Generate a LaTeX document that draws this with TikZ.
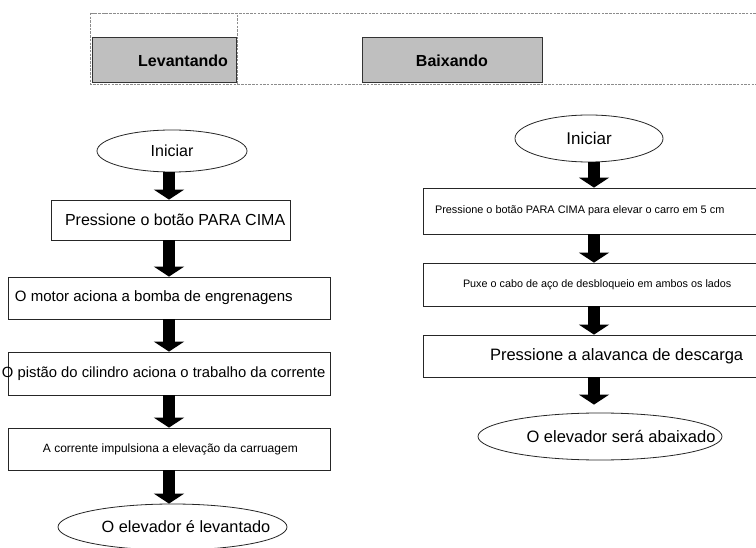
\documentclass[tikz,border=0pt]{standalone}
\usepackage{fontspec}
\setmainfont{Liberation Sans}
\usetikzlibrary{arrows.meta,shapes.geometric}
\newcommand{\fsz}[1]{\fontsize{#1}{#1}\selectfont}
\tikzset{
  boxnode/.style={draw=black!85, line width=0.8pt, rectangle, inner sep=0pt, fill=white},
  ellnode/.style={draw=black!85, line width=0.8pt, ellipse, inner sep=0pt, fill=white},
  hdrbox/.style={draw=black!80, line width=1pt, fill=gray!50!white, rectangle, inner sep=0pt, font=\bfseries},
  dashframe/.style={draw=black!45, line width=0.8pt, dash pattern=on 2.5pt off 1.2pt},
  blockarrow/.style={line width=12.5pt, black, -{Triangle[width=30pt,length=10pt]}}
}
\begin{document}
\begin{tikzpicture}[x=1pt,y=-1pt]
\clip (0,0) rectangle (756,548);
\fill[white] (0,0) rectangle (756,548);
% header
\draw[dashframe] (90,13) rectangle (770,84);
\draw[dashframe] (90,13) rectangle (237,84);
\node[hdrbox, minimum width=144pt, minimum height=45pt] (lev) at (164,60.5)
  {\makebox[144pt][r]{\fsz{16}Levantando\hspace{8pt}}};
\node[hdrbox, minimum width=180pt, minimum height=45pt] (bai) at (452,60.5)
  {\fsz{16}Baixando};
% left column
\coordinate (ax) at (169,0);
\node[ellnode, minimum width=150pt, minimum height=42pt] (l0) at (172,151) {\fsz{16}Iniciar};
\node[boxnode, minimum width=239pt, minimum height=40pt] (l1) at (170.5,220)
  {\makebox[239pt][l]{\hspace{14pt}\fsz{16}Pressione o botão PARA CIMA}};
\node[boxnode, minimum width=322pt, minimum height=42pt] (l2) at (169,298)
  {\makebox[322pt][l]{\hspace{7pt}\fsz{15}O motor aciona a bomba de engrenagens}};
\node[boxnode, minimum width=322pt, minimum height=43pt] (l3) at (169,373.5)
  {\makebox[322pt][l]{\hspace{-6pt}\fsz{14.8}O pistão do cilindro aciona o trabalho da corrente}};
\node[boxnode, minimum width=322pt, minimum height=42pt] (l4) at (169,449)
  {\makebox[322pt][l]{\hspace{35pt}\fsz{12}A corrente impulsiona a elevação da carruagem}};
\node[ellnode, minimum width=229pt, minimum height=46pt] (l5) at (172.5,527)
  {\makebox[0pt]{\hspace{27pt}\raisebox{-5pt}{\fsz{16.3}O elevador é levantado}}};
\draw[blockarrow] (l0.south -| ax) -- (l1.north -| ax);
\draw[blockarrow] (l1.south -| ax) -- (l2.north -| ax);
\draw[blockarrow] (l2.south -| ax) -- (l3.north -| ax);
\draw[blockarrow] (l3.south -| ax) -- (l4.north -| ax);
\draw[blockarrow] (l4.south -| ax) -- (l5.north -| ax);
% right column
\coordinate (bx) at (594,0);
\node[ellnode, minimum width=148pt, minimum height=47pt] (r0) at (589,138.5) {\fsz{17}Iniciar};
\node[boxnode, minimum width=337pt, minimum height=46pt] (r1) at (591.5,211)
  {\makebox[337pt][l]{\hspace{12pt}\fsz{10.9}Pressione o botão PARA CIMA para elevar o carro em 5 cm}};
\node[boxnode, minimum width=337pt, minimum height=43pt] (r2) at (591.5,284.5)
  {\makebox[337pt][l]{\hspace{40pt}\fsz{10.8}Puxe o cabo de aço de desbloqueio em ambos os lados}};
\node[boxnode, minimum width=337pt, minimum height=42pt] (r3) at (591.5,356)
  {\makebox[337pt][l]{\hspace{67pt}\fsz{16.5}Pressione a alavanca de descarga}};
\node[ellnode, minimum width=244pt, minimum height=47pt] (r4) at (600,436.5)
  {\makebox[0pt]{\hspace{42pt}\fsz{16.5}O elevador será abaixado}};
\draw[blockarrow] (r0.south -| bx) -- (r1.north -| bx);
\draw[blockarrow] (r1.south -| bx) -- (r2.north -| bx);
\draw[blockarrow] (r2.south -| bx) -- (r3.north -| bx);
\draw[blockarrow, shorten >=8pt] (r3.south -| bx) -- (r4.north -| bx);
\end{tikzpicture}
\end{document}
